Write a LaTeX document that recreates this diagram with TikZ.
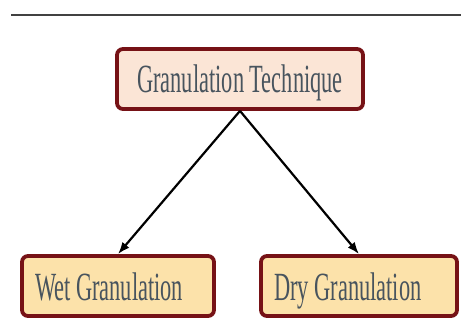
\documentclass[tikz,border=0pt]{standalone}
\usepackage{fontspec}
\setmainfont{Liberation Serif}
\newfontfamily\condensed[FakeStretch=0.56, WordSpace={1,0,0}]{Liberation Serif}
\usepackage{tikz}
\usetikzlibrary{arrows.meta}
\usetikzlibrary{shadows}
\usetikzlibrary{positioning}
\definecolor{boxborder}{RGB}{118,18,22}
\definecolor{topfill}{RGB}{251,229,214}
\definecolor{leaffill}{RGB}{252,226,170}
\definecolor{labeltext}{RGB}{72,84,94}
\definecolor{rulegray}{RGB}{65,65,65}
\tikzset{
  >=Latex,
  line/.style={draw, ->}
}

\begin{document}
\begin{tikzpicture}[
    x=1pt, y=-1pt,
    box/.style={rectangle, draw=boxborder, line width=3.8pt, rounded corners=6pt,
               fill=#1, minimum height=60pt, inner sep=0pt,
               text height=34pt, text depth=6pt,
               font=\condensed\fontsize{40}{42}\selectfont, text=labeltext,
               drop shadow={opacity=0.35, shadow xshift=0pt, shadow yshift=-1.5pt, fill=boxborder}},
    leaf/.style={box=leaffill, text width=#1, align=left, inner xsep=13pt,
                execute at begin node={\spaceskip=0pt\xspaceskip=0pt}},
    arrow/.style={->, >={Latex[length=12pt, width=9pt]}, line width=2.2pt, draw=black}
]
\useasboundingbox (0,0) rectangle (461,334);

% Rule at the top
\coordinate (ruleL) at (11,15);
\coordinate (ruleR) at (461,15);
\draw[rulegray, line width=2.6pt] (ruleL) -- (ruleR);

% Root
\node[box=topfill, minimum width=246pt] (technique) at (240,79) {Granulation Technique};

% Methods
\node[leaf=166pt] (wet) at (118,286) {Wet Granulation};
\node[leaf=170pt] (dry) at (359,286) {Dry Granulation};

% Arrows
\draw[arrow] (technique.south) -- (wet.north);
\draw[arrow] (technique.south) -- (dry.north);

\end{tikzpicture}
\end{document}
